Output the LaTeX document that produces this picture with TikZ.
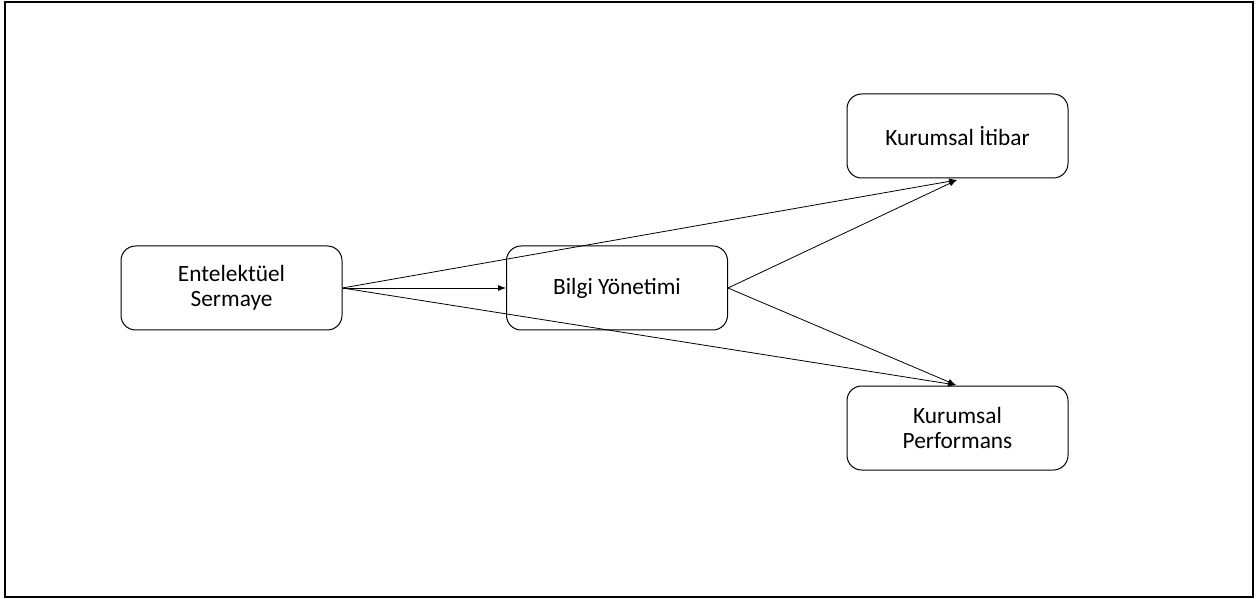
\documentclass[tikz,border=0pt]{standalone}
\usepackage{fontspec}
\setmainfont{Carlito}
\usetikzlibrary{arrows.meta}
\begin{document}
\begin{tikzpicture}[x=0.75pt,y=-0.75pt,
  box/.style={draw, line width=0.75pt, rounded corners=11pt, minimum width=165.75pt, minimum height=63pt, align=center, font=\fontsize{17.5}{18.5}\selectfont, inner sep=0pt},
  conn/.style={line width=0.6pt, -{Latex[length=6pt,width=4.5pt]}}]
\useasboundingbox (0,0) rectangle (1258,599);
\draw[line width=1.1pt] (5,2) rectangle (1253,597);
\node[box] (E) at (231.5,288) {Entelektüel\\Sermaye};
\node[box] (B) at (617,288) {Bilgi Yönetimi};
\node[box] (I) at (957.5,136) {Kurumsal İtibar};
\node[box] (P) at (957.5,428) {Kurumsal\\Performans};
\coordinate (ti) at (957,180);
\coordinate (tp) at (956,385);
\draw[conn] (E.east) -- (B.west);
\draw[conn] (E.east) -- (ti);
\draw[conn] (E.east) -- (tp);
\draw[conn] (B.east) -- (ti);
\draw[conn] (B.east) -- (tp);
\end{tikzpicture}
\end{document}
